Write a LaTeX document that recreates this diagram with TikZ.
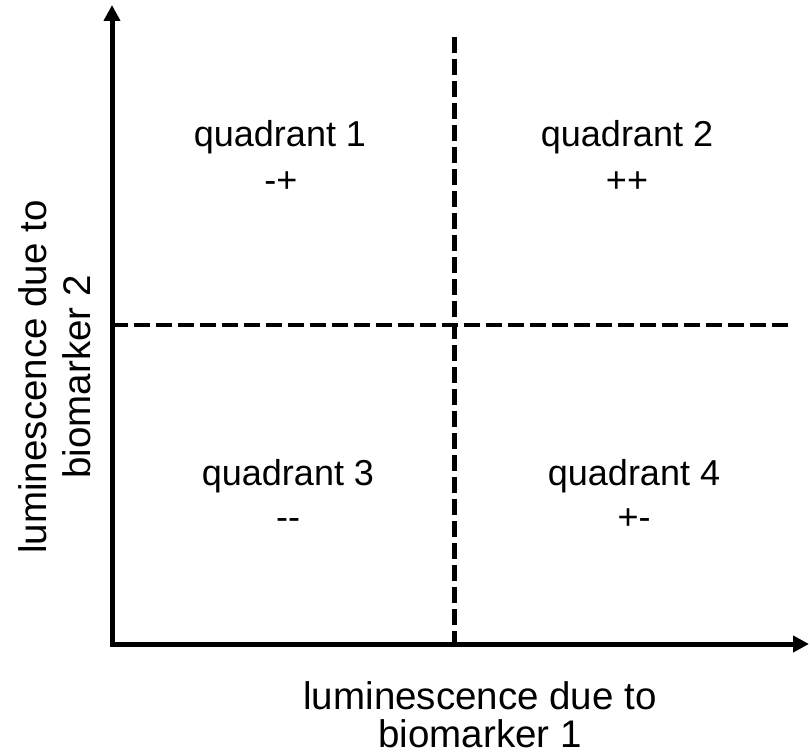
\documentclass[tikz,border=0pt]{standalone}
\usepackage{fontspec}
\setmainfont{Liberation Sans}
\usetikzlibrary{arrows.meta}
\begin{document}
\begin{tikzpicture}[x=1pt,y=-1pt,
  lbl/.style={font=\fontsize{36}{44}\selectfont, inner sep=0pt, anchor=base},
  axlbl/.style={font=\fontsize{38.5}{44}\selectfont, inner sep=0pt, anchor=base},
  axisline/.style={line width=5pt, line join=miter,
    {Triangle[length=16pt,width=16pt]}-{Triangle[length=16pt,width=16pt]}},
  divider/.style={line width=4.5pt, dash pattern=on 16pt off 6pt}]
\useasboundingbox (0,0) rectangle (810,754);
% axes
\coordinate (O) at (112,644);
\coordinate (ytip) at (112,5);
\coordinate (xtip) at (809,644);
\draw[axisline] (ytip) -- (O) -- (xtip);
% dividers
\coordinate (vtop) at (454.5,37);
\coordinate (vbot) at (454.5,644);
\coordinate (hl) at (112,325);
\coordinate (hr) at (790,325);
\draw[divider] (vtop) -- (vbot);
\draw[divider] (hl) -- (hr);
% quadrant labels
\node[lbl] (q1a) at (280,147) {quadrant 1};
\node[lbl] (q1b) at (281,192) {-+};
\node[lbl] (q2a) at (627,147) {quadrant 2};
\node[lbl] (q2b) at (627,192) {++};
\node[lbl] (q3a) at (288,485) {quadrant 3};
\node[lbl] (q3b) at (288,529) {-{}-};
\node[lbl] (q4a) at (634,485) {quadrant 4};
\node[lbl] (q4b) at (634,529) {+-};
% axis titles
\node[axlbl] (xa) at (480,709) {luminescence due to};
\node[axlbl] (xb) at (480,747) {biomarker 1};
\node[axlbl, rotate=90] (ya) at (46,377) {luminescence due to};
\node[axlbl, rotate=90] (yb) at (90,377) {biomarker 2};
\end{tikzpicture}
\end{document}
